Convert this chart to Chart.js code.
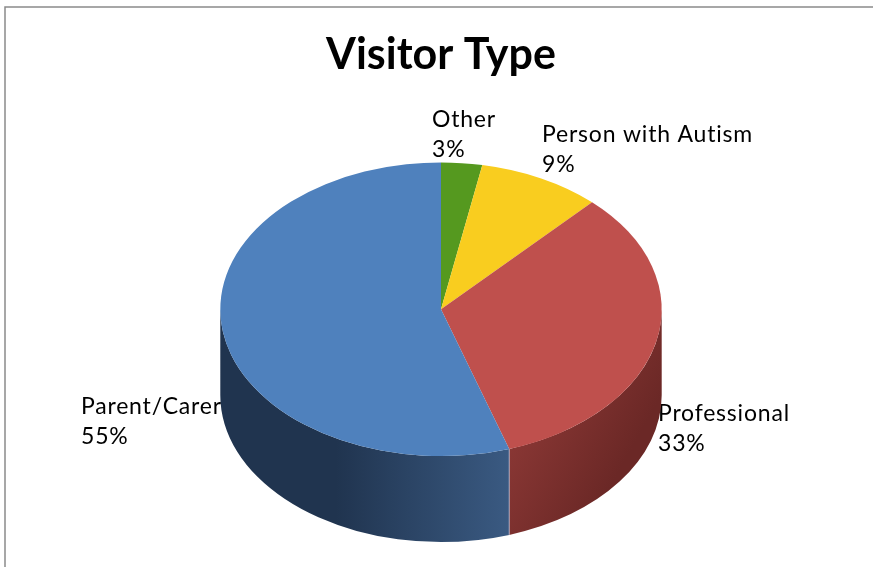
<!DOCTYPE html>
<html>
<head>
<meta charset="utf-8">
<title>Visitor Type</title>
<script src="https://cdn.jsdelivr.net/npm/chart.js@4.4.1/dist/chart.umd.min.js"></script>
<style>
    body { margin: 0; background: #fff; }
    canvas { display: block; }
</style>
</head>
<body>
<canvas id="visitor_type" width="873" height="567"></canvas>
<script>
'use strict';

// chart data
const categories = ['Other', 'Person with Autism', 'Professional', 'Parent/Carer'];
const percents = [3, 9, 33, 55];
const topColors = ['#55991f', '#f9cd1f', '#bf504d', '#4f81bd'];
// side wall colours: [light, dark]
const sideColors = [
    ['#3d6e16', '#2c5110'],
    ['#b39416', '#8a7211'],
    ['#9c403d', '#6b2826'],
    ['#3a5a82', '#20344f']
];

// label layout (text position, left edge + first line middle)
const labelPos = [
    [432, 120],
    [542, 135],
    [658, 414],
    [81, 407]
];

const tilt = 147 / 221;
const depth = 86;

// fake 3d: squash the pie and draw the walls below it
const pie3d = {
    id: 'pie3d',
    beforeDraw: (chart) => {
        let ctx = chart.ctx;
        ctx.save();
        ctx.strokeStyle = '#8a8a8a';
        ctx.lineWidth = 1.5;
        ctx.beginPath();
        ctx.moveTo(5, chart.height);
        ctx.lineTo(5, 7);
        ctx.lineTo(chart.width, 7);
        ctx.stroke();
        ctx.restore();
    },
    beforeDatasetsDraw: (chart) => {
        let ctx = chart.ctx;
        let arcs = chart.getDatasetMeta(0).data;
        let cx = arcs[0].x;
        let cy = arcs[0].y;
        let r = arcs[0].outerRadius;
        let ry = r * tilt;

        // labels go under the pie
        ctx.save();
        ctx.fillStyle = '#000';
        ctx.font = '23px Lato';
        ctx.textBaseline = 'middle';
        ctx.textAlign = 'left';
        ctx.letterSpacing = '0.8px';
        arcs.forEach((arc, i) => {
            let [x, y] = labelPos[i];
            ctx.fillText(categories[i], x, y);
            ctx.fillText(percents[i] + '%', x, y + 30);
        });
        ctx.restore();

        // side walls, only the front half (0..PI) is visible
        arcs.forEach((arc, i) => {
            let a = Math.max(arc.startAngle, 0);
            let b = Math.min(arc.endAngle, Math.PI);
            if (b <= a) {
                return;
            }
            let x1 = cx + r * Math.cos(b);
            let x2 = cx + r * Math.cos(a);
            let grad;
            if (i === 3) {
                grad = ctx.createLinearGradient(x2, cy, x1, cy);
                grad.addColorStop(0, sideColors[i][0]);
                grad.addColorStop(0.6, sideColors[i][1]);
                grad.addColorStop(1, sideColors[i][1]);
            }
            else {
                grad = ctx.createLinearGradient(x1, cy, x2, cy + depth);
                grad.addColorStop(0, sideColors[i][0]);
                grad.addColorStop(1, sideColors[i][1]);
            }
            ctx.save();
            ctx.beginPath();
            ctx.ellipse(cx, cy, r, ry, 0, a, b, false);
            ctx.ellipse(cx, cy + depth, r, ry, 0, b, a, true);
            ctx.closePath();
            ctx.fillStyle = grad;
            ctx.fill();
            ctx.restore();
        });

        // thin highlight where walls meet at the front
        arcs.forEach((arc) => {
            let a = arc.startAngle;
            if (a > 0 && a < Math.PI) {
                let x = cx + r * Math.cos(a);
                let y = cy + ry * Math.sin(a);
                ctx.save();
                ctx.strokeStyle = 'rgba(200, 200, 220, 0.7)';
                ctx.lineWidth = 1;
                ctx.beginPath();
                ctx.moveTo(x, y);
                ctx.lineTo(x, y + depth);
                ctx.stroke();
                ctx.restore();
            }
        });

        ctx.save();
        ctx.translate(cx, cy);
        ctx.scale(1, tilt);
        ctx.translate(-cx, -cy);
    },
    afterDatasetsDraw: (chart) => {
        chart.ctx.restore();
    }
};

new Chart(document.querySelector('canvas#visitor_type'), {
    type: 'pie',
    data: {
        labels: categories,
        datasets: [{
            label: '',
            data: percents,
            backgroundColor: topColors,
            borderWidth: 0
        }]
    },
    options: {
        responsive: false,
        animation: false,
        layout: {
            padding: { left: 220, right: 211, top: 0, bottom: 37 }
        },
        plugins: {
            legend: {
                display: false
            },
            tooltip: {
                enabled: false
            },
            title: {
                display: true,
                text: 'Visitor Type',
                color: '#000',
                font: {
                    family: 'Lato',
                    size: 43,
                    weight: 'bold'
                },
                padding: { top: 29, bottom: 8 }
            }
        }
    },
    plugins: [
        pie3d
    ]
});
</script>
</body>
</html>
